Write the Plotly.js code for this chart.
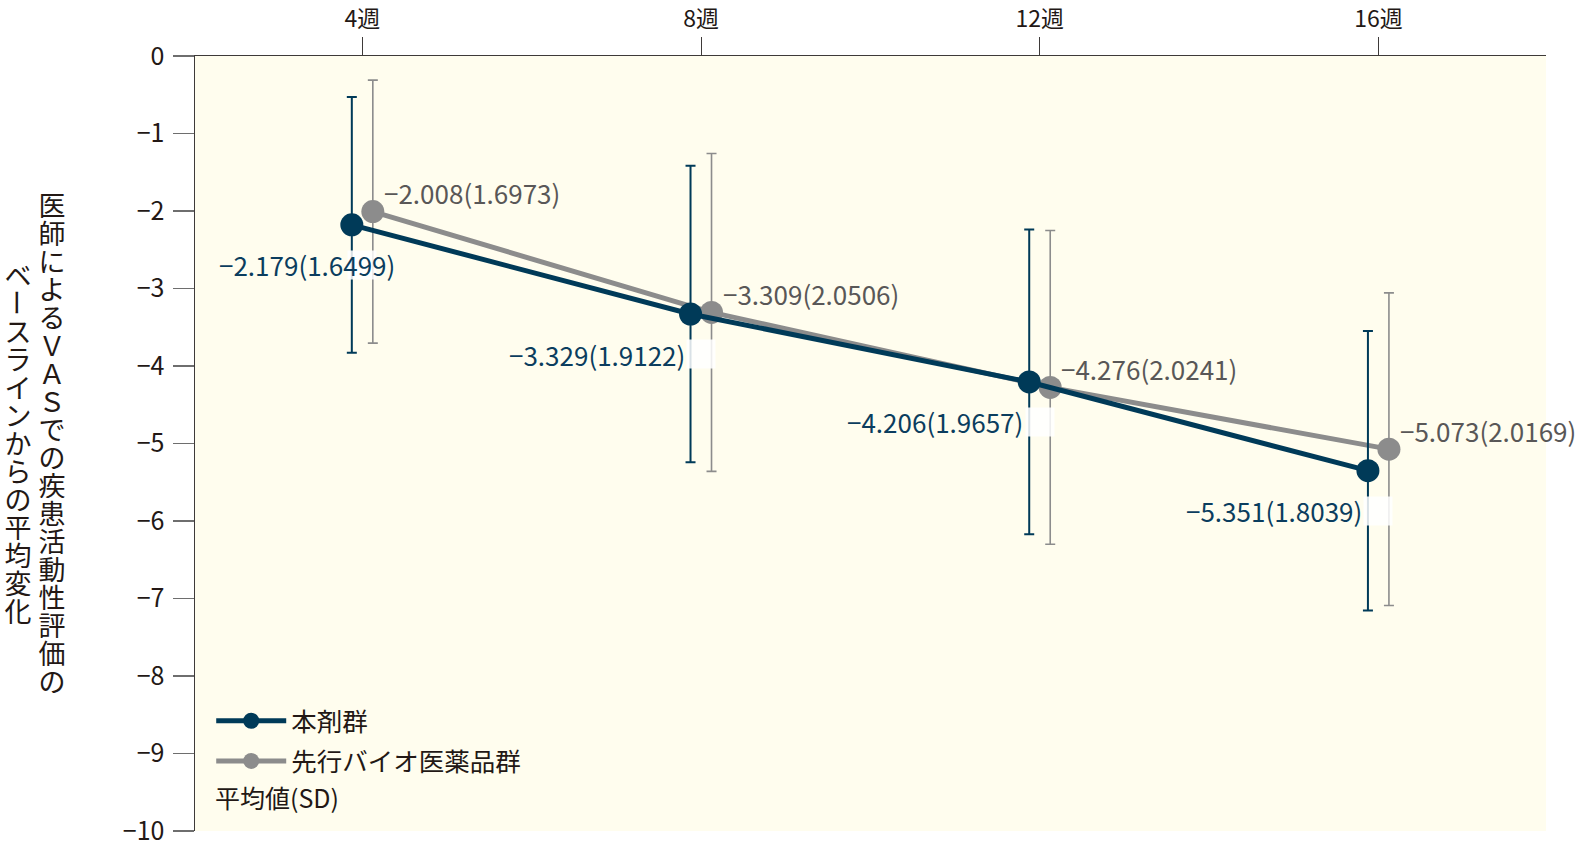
<!DOCTYPE html>
<html>
<head>
<meta charset="utf-8">
<script src="https://cdn.plot.ly/plotly-3.0.1.min.js"></script>
<style>html,body{margin:0;padding:0;background:#fff;}#chart{width:1584px;height:854px;}</style>
</head>
<body>
<div id="chart"></div>
<script>
// ---- data ----
const weeks = [4, 8, 12, 16];
const weekLabels = ['4週', '8週', '12週', '16週'];
const drugName = '本剤群';
const drugMean = [-2.179, -3.329, -4.206, -5.351];
const drugSD = [1.6499, 1.9122, 1.9657, 1.8039];
const refName = '先行バイオ医薬品群';
const refMean = [-2.008, -3.309, -4.276, -5.073];
const refSD = [1.6973, 2.0506, 2.0241, 2.0169];
const yTicks = [0, -1, -2, -3, -4, -5, -6, -7, -8, -9, -10];
const titleCol1 = '医師によるＶＡＳでの疾患活動性評価の';
const titleCol2 = 'ベースラインからの平均変化';
const noteText = '平均値(SD)';

// ---- style ----
const FONT = '"Noto Sans CJK JP", "Noto Sans", sans-serif';
const NAVY = '#003a58';
const GRAY = '#8c8c8c';
const TEXT = '#231815';
const LBL_NAVY = '#0b3d5e';
const LBL_GRAY = '#595757';
const BG = '#fffdee';
const OFF = 0.124; // horizontal dodge (weeks)
const LBL_SIZE = 26;

const fmt = (m, s) => (m.toFixed(3)).replace('-', '\u2212') + '(' + s.toFixed(4) + ')';

const xDrug = weeks.map(w => w - OFF);
const xRef = weeks.map(w => w + OFF);

const traceRef = {
  x: xRef, y: refMean, name: refName, type: 'scatter', mode: 'lines+markers',
  line: {color: GRAY, width: 5}, marker: {color: GRAY, size: 23},
  error_y: {type: 'data', array: refSD, visible: true, color: GRAY, thickness: 1.6, width: 5},
  legendrank: 2, legendgroup: 'b', hoverinfo: 'skip'
};
const traceDrug = {
  x: xDrug, y: drugMean, name: drugName, type: 'scatter', mode: 'lines+markers',
  line: {color: NAVY, width: 5}, marker: {color: NAVY, size: 23},
  error_y: {type: 'data', array: drugSD, visible: true, color: NAVY, thickness: 2, width: 5},
  legendrank: 1, legendgroup: 'a', hoverinfo: 'skip'
};

const annotations = [];
// masks behind drug labels (white gaps in the error bars)
weeks.forEach((w, i) => {
  annotations.push({
    x: w, y: drugMean[i], xref: 'x', yref: 'y', text: '\u00a0', showarrow: false,
    width: 26, height: 26, bgcolor: 'rgba(255,255,255,0.85)', yshift: -40, font: {size: 10}
  });
});
weeks.forEach((w, i) => {
  const first = i === 0; // first label would hit the axis: pin it near the left edge
  annotations.push(Object.assign({
    y: drugMean[i], yref: 'y', text: fmt(drugMean[i], drugSD[i]),
    showarrow: false, yanchor: 'middle', yshift: -40,
    font: {family: FONT, size: LBL_SIZE, color: LBL_NAVY}
  }, first ? {x: 0, xref: 'paper', xanchor: 'left', xshift: 22}
           : {x: xDrug[i], xref: 'x', xanchor: 'right', xshift: -4}));
  annotations.push({
    x: xRef[i], y: refMean[i], xref: 'x', yref: 'y', text: fmt(refMean[i], refSD[i]),
    showarrow: false, xanchor: 'left', yanchor: 'middle', xshift: 9, yshift: 19,
    font: {family: FONT, size: LBL_SIZE, color: LBL_GRAY}
  });
});
// vertical y-axis title, one character per annotation
const PLOT_L = 195, PLOT_CY = 443.5, PITCH = 28, TCY = 442;
function addColumn(str, cx) {
  const chars = Array.from(str);
  const n = chars.length;
  chars.forEach((c, i) => {
    const cy = TCY + (i - (n - 1) / 2) * PITCH;
    const isBar = c === 'ー';
    annotations.push({
      xref: 'paper', yref: 'paper', x: 0, y: 0.5, xanchor: 'center', yanchor: 'middle',
      xshift: cx - PLOT_L, yshift: PLOT_CY - cy, text: c, showarrow: false,
      textangle: isBar ? 90 : 0, width: 28, height: 28,
      font: {family: FONT, size: 27, color: TEXT}
    });
  });
}
addColumn(titleCol1, 51.5);
addColumn(titleCol2, 17.5);
// note under legend
annotations.push({
  xref: 'paper', yref: 'paper', x: 0, y: 0, xanchor: 'left', yanchor: 'middle',
  xshift: 18, yshift: 34, text: noteText, showarrow: false,
  font: {family: FONT, size: 25, color: TEXT}
});

const layout = {
  width: 1584, height: 854,
  margin: {l: 195, r: 38, t: 56, b: 23},
  paper_bgcolor: '#ffffff', plot_bgcolor: BG,
  font: {family: FONT, color: TEXT},
  showlegend: true,
  legend: {
    x: 0.012, y: 0.172, xanchor: 'left', yanchor: 'top',
    bgcolor: 'rgba(0,0,0,0)', font: {family: FONT, size: 25.5, color: TEXT},
    traceorder: 'grouped', tracegroupgap: 4, itemwidth: 70
  },
  xaxis: {
    side: 'top', range: [2.024, 17.979], tickvals: weeks, ticktext: weekLabels,
    ticks: 'outside', ticklen: 18, tickwidth: 1, tickcolor: '#3e3a39',
    showline: true, linecolor: '#3e3a39', linewidth: 1.5,
    showgrid: false, zeroline: false,
    tickfont: {family: FONT, size: 23, color: TEXT}
  },
  yaxis: {
    range: [-10, 0], tickvals: yTicks, ticks: 'outside', ticklen: 21, tickwidth: 1.2,
    tickcolor: '#6e6e6e', showline: true, linecolor: '#3e3a39', linewidth: 1.5,
    showgrid: false, zeroline: false, ticklabelstandoff: 3,
    tickfont: {family: FONT, size: 25, color: TEXT}
  },
  annotations: annotations
};

Plotly.newPlot('chart', [traceRef, traceDrug], layout, {displayModeBar: false, staticPlot: true});
</script>
</body>
</html>
